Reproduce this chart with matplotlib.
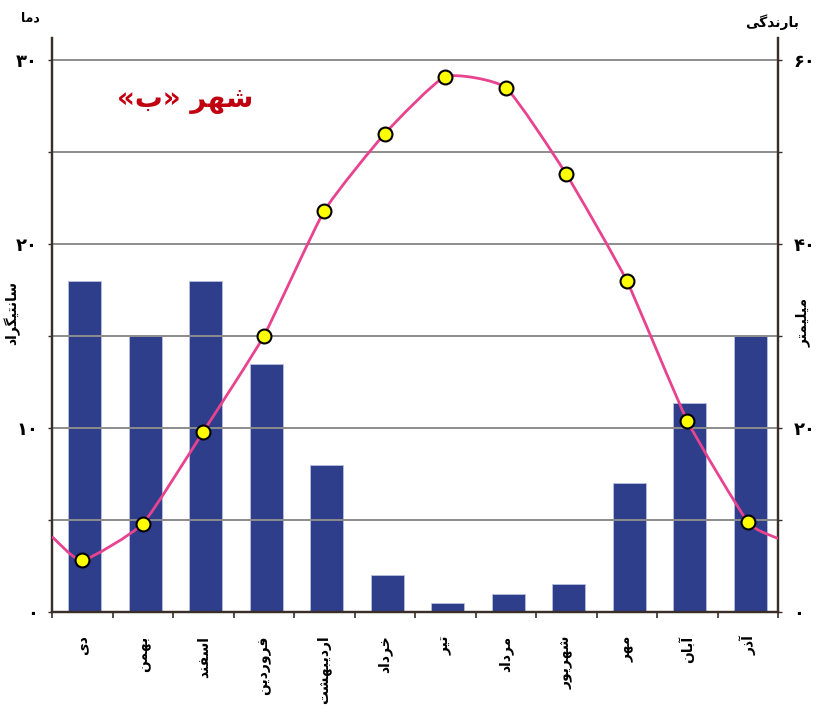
import matplotlib
matplotlib.use("Agg")
import matplotlib.pyplot as plt
from matplotlib.path import Path
from matplotlib.patches import PathPatch
import numpy as np

months = ["دی", "بهمن", "اسفند", "فروردین", "اردیبهشت", "خرداد",
          "تیر", "مرداد", "شهریور", "مهر", "آبان", "آذر"]
rain_mm = [36, 30, 36, 27, 16, 4, 1, 2, 3, 14, 22.7, 30]
temp_c = [2.8, 4.8, 9.8, 15.0, 21.8, 26.0, 29.1, 28.5, 23.8, 18.0, 10.4, 4.9]
temp_edges = [4.1, 4.0]  # where the curve meets the left / right frame
temp_ticks = [0, 5, 10, 15, 20, 25, 30]
temp_labels = ["۰", "", "۱۰", "", "۲۰", "", "۳۰"]
rain_ticks = [0, 10, 20, 30, 40, 50, 60]
rain_labels = ["۰", "", "۲۰", "", "۴۰", "", "۶۰"]

# minimal Persian shaping (matplotlib has no complex text layout)
FORMS = {
    "ا": ("\ufe8d", "\ufe8e"), "آ": ("\ufe81", "\ufe82"),
    "د": ("\ufea9", "\ufeaa"), "ذ": ("\ufeab", "\ufeac"),
    "ر": ("\ufead", "\ufeae"), "و": ("\ufeed", "\ufeee"),
    "ب": ("\ufe8f", "\ufe90", "\ufe91", "\ufe92"),
    "ت": ("\ufe95", "\ufe96", "\ufe97", "\ufe98"),
    "خ": ("\ufea5", "\ufea6", "\ufea7", "\ufea8"),
    "س": ("\ufeb1", "\ufeb2", "\ufeb3", "\ufeb4"),
    "ش": ("\ufeb5", "\ufeb6", "\ufeb7", "\ufeb8"),
    "ف": ("\ufed1", "\ufed2", "\ufed3", "\ufed4"),
    "ل": ("\ufedd", "\ufede", "\ufedf", "\ufee0"),
    "م": ("\ufee1", "\ufee2", "\ufee3", "\ufee4"),
    "ن": ("\ufee5", "\ufee6", "\ufee7", "\ufee8"),
    "ه": ("\ufee9", "\ufeea", "\ufeeb", "\ufeec"),
    "ی": ("\ufbfc", "\ufbfd", "\ufbfe", "\ufbff"),
    "گ": ("\ufb92", "\ufb93", "\ufb94", "\ufb95"),
}
MIRROR = {"«": "»", "»": "«", "(": ")", ")": "("}


def fa(text):
    out = []
    for i, ch in enumerate(text):
        if ch not in FORMS:
            out.append(MIRROR.get(ch, ch))
            continue
        prev = text[i - 1] if i > 0 else ""
        nxt = text[i + 1] if i + 1 < len(text) else ""
        forms = FORMS[ch]
        join_prev = prev in FORMS and len(FORMS[prev]) == 4
        join_next = len(forms) == 4 and nxt in FORMS
        if join_prev and join_next:
            out.append(forms[3])
        elif join_prev:
            out.append(forms[1])
        elif join_next:
            out.append(forms[2])
        else:
            out.append(forms[0])
    return "".join(reversed(out))


def smooth_path(xs, ys, k=0.08):
    # gently rounded bezier through the given points
    pts = np.column_stack([xs, ys])
    verts = [pts[0]]
    codes = [Path.MOVETO]
    for i in range(len(pts) - 1):
        p0 = pts[i - 1] if i > 0 else pts[i]
        p1, p2 = pts[i], pts[i + 1]
        p3 = pts[i + 2] if i + 2 < len(pts) else pts[i + 1]
        verts += [p1 + (p2 - p0) * k, p2 - (p3 - p1) * k, p2]
        codes += [Path.CURVE4] * 3
    return Path(verts, codes)


plt.rcParams["font.family"] = ["DejaVu Sans"]
plt.rcParams["font.weight"] = "bold"

fig = plt.figure(figsize=(8.17, 7.08), dpi=100)
ax = fig.add_axes([52 / 817, 96 / 708, 726 / 817, 574 / 708])
ax2 = ax.twinx()

spine_col = "#3a2e28"
x = np.arange(len(months)) + 0.5

# precipitation bars (base axes, ticks on the right)
ax.bar(x + 0.04, rain_mm, width=0.55, color="#2e3e8b",
       edgecolor="#b8c0e0", linewidth=0.6, zorder=1)
ax.set_xlim(0, len(months))
ax.set_ylim(0, 62.4)
ax.yaxis.tick_right()
ax.set_yticks(rain_ticks)
ax.set_yticklabels(rain_labels, fontsize=13, fontweight="bold")
ax.set_axisbelow(False)
ax.grid(axis="y", color="#8c8c8c", linewidth=1.4)
ax.set_xticks(x)
ax.set_xticklabels([fa(m) for m in months], rotation=90, fontsize=10,
                   fontweight="bold", va="top")
ax.set_xticks(np.arange(len(months) + 1), minor=True)
ax.tick_params(axis="x", which="major", length=0, pad=17)
ax.tick_params(axis="x", which="minor", length=4, width=1.2, color=spine_col)
ax.tick_params(axis="y", length=3, width=1, color=spine_col, pad=8)

# temperature curve (twin axes, ticks on the left)
ax2.set_ylim(0, 31.2)
ax2.yaxis.tick_left()
ax2.set_yticks(temp_ticks)
ax2.set_yticklabels(temp_labels, fontsize=13, fontweight="bold")
ax2.tick_params(axis="y", length=3, width=1, color=spine_col, pad=7)
line_x = np.concatenate([[0], x, [len(months)]])
line_y = [temp_edges[0]] + temp_c + [temp_edges[1]]
ax2.add_patch(PathPatch(smooth_path(line_x, line_y), facecolor="none",
                        edgecolor="#e8438f", linewidth=2, zorder=3,
                        clip_on=True))
ax2.plot(x, temp_c, linestyle="none", marker="o", markersize=10,
         markerfacecolor="#ffff00", markeredgecolor="black",
         markeredgewidth=1.5, zorder=4)

for a in (ax, ax2):
    a.spines["top"].set_visible(False)
    for s in ("left", "right", "bottom"):
        a.spines[s].set_color(spine_col)
        a.spines[s].set_linewidth(1.6)

# titles and axis names
fig.text(185 / 817, 1 - 100 / 708, fa("شهر «ب»"), color="#c00010",
         fontsize=20, fontweight="bold", ha="center", va="center")
fig.text(30 / 817, 1 - 18 / 708, fa("دما"), fontsize=9,
         ha="center", va="center")
fig.text(772 / 817, 1 - 22 / 708, fa("بارندگی"), fontsize=10,
         ha="center", va="center")
fig.text(12 / 817, 1 - 313 / 708, fa("سانتیگراد"), fontsize=10,
         rotation=90, ha="center", va="center")
fig.text(803 / 817, 1 - 322 / 708, fa("میلیمتر"), fontsize=10,
         rotation=90, ha="center", va="center")

fig.savefig("out.png", dpi=100)
